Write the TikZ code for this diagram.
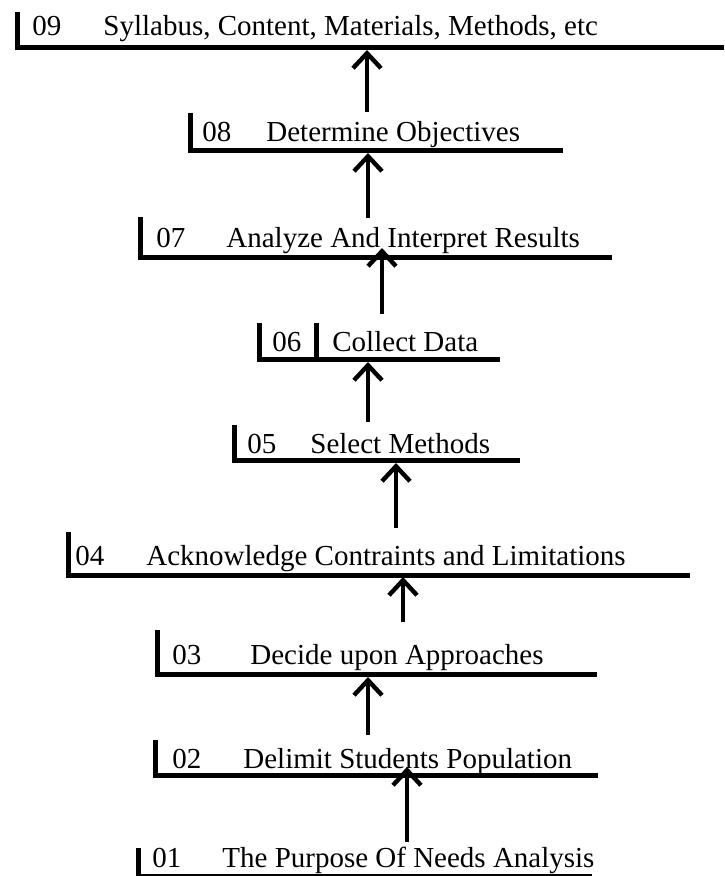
\documentclass[tikz,border=0pt]{standalone}
\usepackage{fontspec}
\setmainfont{Liberation Serif}
\usetikzlibrary{arrows.meta}

\begin{document}
\begin{tikzpicture}[x=0.5pt,y=-0.5pt,
  lbl/.style={anchor=base west,inner sep=0pt,font=\fontsize{14.5}{17}\selectfont},
  rule/.style={line width=2.5pt},
  flow/.style={line width=2.2pt,-{Straight Barb[length=7.5pt,width=14pt]}}]
  \useasboundingbox (0,0) rectangle (724,876);

  % steps: bar x / bar top / line y / line end / number x / label x / baseline
  \foreach \n/\bx/\by/\ly/\lx/\nx/\tx/\bl/\lab in {
    09/17.5/12/47.5/724/32/103/36/{Syllabus, Content, Materials, Methods, etc},
    08/190.5/113/150.5/563/202/266/142/{Determine Objectives},
    07/140.5/217/257.5/612/156/226/248/{Analyze And Interpret Results},
    06/259/323/359.5/500/272/332/351/{Collect Data},
    05/234/425/460.5/520/247/310/453/{Select Methods},
    04/68.5/532/575/690/75/146/565/{Acknowledge Contraints and Limitations},
    03/157.5/630/674.5/597/172/250/664/{Decide upon Approaches},
    02/155.5/740/775.5/598/172/243/768/{Delimit Students Population}}
  {
    \node[lbl] (num\n) at (\nx,\bl) {\n};
    \node[lbl] (lab\n) at (\tx,\bl) {\lab};
    \draw[rule] (\bx,\by) |- (\lx,\ly);
  }
  \draw[rule] (316.5,323) -- (316.5,357);

  \node[lbl] (num01) at (152,867) {01};
  \node[lbl] (lab01) at (222,867) {The Purpose Of Needs Analysis};
  \draw[rule] (138.5,848) -- (138.5,876);
  \draw[line width=0.8pt] (136,875) -- (592,875);

  % arrows: x / from / to
  \foreach \i/\x/\a/\b in {09/367/112/50, 08/368/218/153, 07/382/314/248,
    06/368/422/362, 05/396/528/463, 04/403/622/577, 03/368/735/677, 02/407/842/767}
  {
    \coordinate (from\i) at (\x,\a);
    \coordinate (to\i) at (\x,\b);
    \draw[flow] (from\i) -- (to\i);
  }
\end{tikzpicture}
\end{document}
